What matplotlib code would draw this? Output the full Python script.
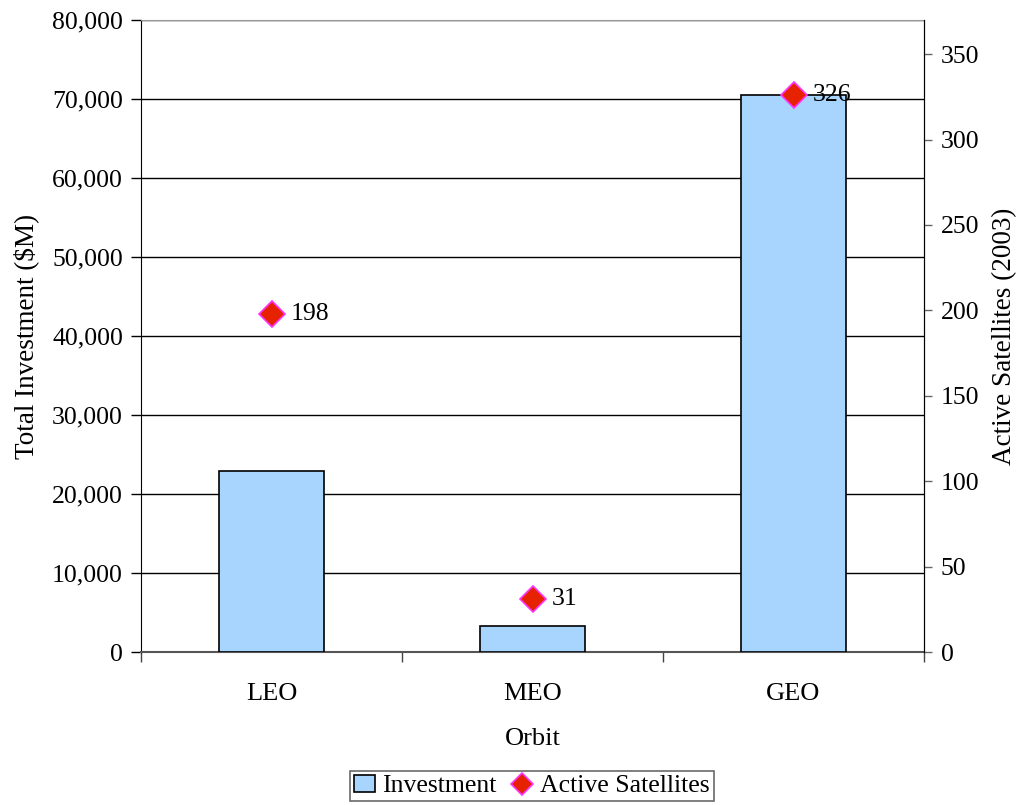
import matplotlib
matplotlib.use("Agg")
import matplotlib.pyplot as plt
from matplotlib.ticker import FuncFormatter, FixedLocator
from matplotlib.lines import Line2D
from matplotlib.patches import Patch

orbits = ["LEO", "MEO", "GEO"]
investment = [22900, 3250, 70500]
active_sats = [198, 31, 326]

plt.rcParams['font.family'] = ['Liberation Serif', 'DejaVu Serif']

W, H = 1026, 805
fig = plt.figure(figsize=(W / 100, H / 100), dpi=100)
L, R, T, B = 141, 924, 20, 652
ax = fig.add_axes([L / W, (H - B) / H, (R - L) / W, (B - T) / H])

x = [i + 0.5 for i in range(len(orbits))]
ax.bar(x, investment, width=0.4, color='#A8D5FE', edgecolor='black', linewidth=1.2, zorder=3)
ax.set_xlim(0, len(orbits))
ax.set_ylim(0, 80000)
ax.set_yticks(range(0, 80001, 10000))
ax.yaxis.set_major_formatter(FuncFormatter(lambda v, p: f"{int(v):,}"))
ax.grid(axis='y', color='black', linewidth=1.0, zorder=0)
ax.set_axisbelow(True)

ax.xaxis.set_major_locator(FixedLocator(range(len(orbits) + 1)))
ax.xaxis.set_major_formatter(FuncFormatter(lambda v, p: ""))
ax.xaxis.set_minor_locator(FixedLocator(x))
ax.set_xticklabels(orbits, minor=True)
ax.tick_params(axis='x', which='major', length=7, width=1, color='#444444', direction='out')
ax.tick_params(axis='x', which='minor', length=0, pad=22, labelsize=19)
ax.tick_params(axis='y', length=7, width=1, direction='out', labelsize=18.5, pad=6)

ax.spines['top'].set_color('#999999')
ax.spines['bottom'].set_color('#555555')
ax.spines['bottom'].set_linewidth(1.5)
ax.spines['left'].set_color('black')
ax.spines['right'].set_color('black')

ax.set_xlabel("Orbit", fontsize=19, labelpad=17)
ax.set_ylabel("Total Investment ($M)", fontsize=19.5, labelpad=9)

ax2 = ax.twinx()
ax2.set_ylim(0, 370)
ax2.set_yticks(range(0, 351, 50))
ax2.tick_params(axis='y', length=6, width=1, color='#666666', direction='out', labelsize=18.5, pad=6)
ax2.plot(x, active_sats, linestyle='none', marker='D', markersize=13,
         markerfacecolor='#E62200', markeredgecolor='#FF33FF', markeredgewidth=1.2, zorder=5)
for xi, v in zip(x, active_sats):
    ax2.annotate(str(v), (xi, v), xytext=(14, 0), textcoords='offset points',
                 va='center', ha='left', fontsize=18.5)
ax2.set_ylabel("Active Satellites (2003)", fontsize=19.5, labelpad=9)
for s in ['top', 'bottom', 'left']:
    ax2.spines[s].set_visible(False)
ax2.spines['right'].set_color('black')

handles = [Patch(facecolor='#A8D5FE', edgecolor='black', linewidth=1.2),
           Line2D([], [], linestyle='none', marker='D', markersize=11,
                  markerfacecolor='#E62200', markeredgecolor='#FF33FF', markeredgewidth=1.2)]
leg = fig.legend(handles, ["Investment", "Active Satellites"], ncol=2,
                 loc='center', bbox_to_anchor=(532 / W, 1 - 786 / H),
                 fontsize=18.5, frameon=True, fancybox=False, edgecolor='#444444',
                 handlelength=0.8, handletextpad=0.3, columnspacing=0.6,
                 borderpad=0.15, borderaxespad=0)
leg.get_frame().set_linewidth(1.2)

fig.savefig("out.png", dpi=100)
